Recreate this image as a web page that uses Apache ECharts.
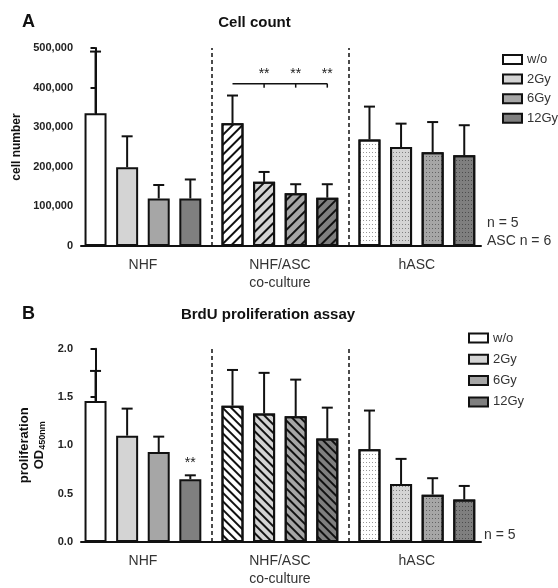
<!DOCTYPE html>
<html>
<head>
<meta charset="utf-8">
<script src="https://cdn.jsdelivr.net/npm/echarts@6/dist/echarts.min.js"></script>
<style>
  html, body { margin: 0; padding: 0; background: #fff; }
  .panel { width: 558px; height: 294px; }
</style>
</head>
<body>
<div id="chartA" class="panel"></div>
<div id="chartB" class="panel"></div>
<script>
const groups = ['NHF', 'NHF/ASC\nco-culture', 'hASC'];
const doses = ['w/o', '2Gy', '6Gy', '12Gy'];
const doseColors = ['#ffffff', '#d4d4d4', '#a6a6a6', '#7f7f7f'];

// rows = groups, columns = doses
const cellMean = [
  [335000, 199000, 120000, 120000],
  [310000, 162000, 133000, 122000],
  [269000, 250000, 237000, 229000]
];
const cellUpper = [
  [491000, 277000, 154000, 168000],
  [380000, 187000, 156000, 156000],
  [352000, 309000, 313000, 305000]
];
const brduMean = [
  [1.46, 1.10, 0.93, 0.65],
  [1.41, 1.33, 1.30, 1.07],
  [0.96, 0.60, 0.49, 0.44]
];
const brduUpper = [
  [1.77, 1.38, 1.09, 0.69],
  [1.78, 1.75, 1.68, 1.39],
  [1.36, 0.86, 0.66, 0.58]
];
// significance marks: group, starred doses, bracket from/to dose, level
const cellSig = { group: 1, from: 0, to: 3, stars: [1, 2, 3], level: 410000 };
const brduSig = { group: 0, from: 3, to: 3, stars: [3], level: 0.72 };

const GROUP_STEP = 4.335;   // distance between groups, in bar slots
const pos = (g, i) => g * GROUP_STEP + i;
const FONT = '"Liberation Sans", Arial, sans-serif';

function makeDecal(g, hatchRot, hatchDash) {
  if (g === 1) {
    return { symbol: 'rect', symbolSize: 1, color: '#111', backgroundColor: null,
      dashArrayX: [1, 0], dashArrayY: hatchDash, rotation: hatchRot };
  }
  if (g === 2) {
    return { symbol: 'rect', symbolSize: 1, color: 'rgba(0,0,0,0.4)', backgroundColor: null,
      dashArrayX: [1, 2], dashArrayY: [1, 2.5], rotation: 0 };
  }
  return null;
}

function makeOption(cfg) {
  const barSeries = doses.map((d, i) => ({
    name: d,
    type: 'bar',
    barWidth: 22,
    barGap: '-100%',
    itemStyle: { color: doseColors[i], borderColor: '#111', borderWidth: 2 },
    data: groups.map((gName, g) => {
      const decal = makeDecal(g, cfg.hatchRot, cfg.hatchDash);
      const item = { value: [pos(g, i), cfg.mean[g][i]] };
      if (decal) item.itemStyle = { decal };
      return item;
    }),
    markLine: i === 0 ? {
      silent: true, symbol: ['none', 'none'], label: { show: false },
      lineStyle: { color: '#111', type: [4, 3], width: 1.5 },
      data: [0, 1].map(g => ({ xAxis: pos(g, 3) + (GROUP_STEP - 3) / 2 }))
    } : undefined
  }));

  const errData = [];
  groups.forEach((gName, g) => doses.forEach((d, i) => {
    errData.push([pos(g, i), cfg.mean[g][i], cfg.upper[g][i]]);
  }));

  const sig = cfg.sig;
  const starData = sig.stars.map(i => [pos(sig.group, i), sig.level, sig.from !== sig.to ? 1 : 0]);
  const bracketData = sig.from !== sig.to ? [[pos(sig.group, sig.from), pos(sig.group, sig.to), sig.level]] : [];

  return {
    animation: false,
    textStyle: { fontFamily: FONT },
    grid: cfg.grid,
    legend: {
      orient: 'vertical', left: cfg.legend.left, top: cfg.legend.top,
      itemWidth: 19, itemHeight: 9, itemGap: cfg.legend.gap, icon: 'rect',
      textStyle: { fontSize: 13, color: '#333', lineHeight: 14, fontFamily: FONT },
      data: doses
    },
    xAxis: {
      type: 'value', min: -0.46, max: 12.2,
      axisLine: { show: true, onZero: false, lineStyle: { color: '#111', width: 2 } },
      axisTick: { show: false },
      splitLine: { show: false },
      axisLabel: {
        customValues: groups.map((gName, g) => pos(g, 1.5)),
        formatter: v => groups[Math.round((v - 1.5) / GROUP_STEP)],
        fontSize: 14, lineHeight: 18, color: '#333', margin: 10, fontFamily: FONT
      }
    },
    yAxis: {
      type: 'value', min: 0, max: cfg.yMax, interval: cfg.yInterval,
      name: cfg.yName, nameLocation: 'middle', nameGap: cfg.nameGap,
      nameTextStyle: cfg.nameStyle,
      axisLine: { show: true, lineStyle: { color: '#111', width: 2 } },
      axisTick: { show: true, length: 5, lineStyle: { color: '#111', width: 2 } },
      splitLine: { show: false },
      axisLabel: { formatter: cfg.yFormat, fontSize: 11, fontWeight: 'bold', color: '#222', margin: 8, fontFamily: FONT }
    },
    series: barSeries.concat([
      {
        type: 'custom', name: 'err', silent: true, z: 3,
        encode: { x: 0, y: [1, 2] },
        data: errData,
        renderItem(params, api) {
          const b = api.coord([api.value(0), api.value(1)]);
          const t = api.coord([api.value(0), api.value(2)]);
          const st = { stroke: '#111', lineWidth: 2 };
          return { type: 'group', children: [
            { type: 'line', shape: { x1: b[0], y1: b[1], x2: t[0], y2: t[1] }, style: st },
            { type: 'line', shape: { x1: t[0] - 5.5, y1: t[1], x2: t[0] + 5.5, y2: t[1] }, style: st }
          ] };
        }
      },
      {
        type: 'custom', name: 'bracket', silent: true, z: 3,
        encode: { x: [0, 1], y: 2 },
        data: bracketData,
        renderItem(params, api) {
          const a = api.coord([api.value(0), api.value(2)]);
          const c = api.coord([api.value(1), api.value(2)]);
          return { type: 'line', shape: { x1: a[0], y1: a[1], x2: c[0], y2: c[1] },
            style: { stroke: '#111', lineWidth: 1.5 } };
        }
      },
      {
        type: 'custom', name: 'stars', silent: true, z: 3,
        encode: { x: 0, y: 1 },
        data: starData,
        renderItem(params, api) {
          const p = api.coord([api.value(0), api.value(1)]);
          const children = [
            { type: 'text', x: p[0], y: p[1] - 2,
              style: { text: '**', fontSize: 14, fill: '#222', align: 'center', verticalAlign: 'bottom', fontFamily: FONT } }
          ];
          if (api.value(2)) {
            children.push({ type: 'line', shape: { x1: p[0], y1: p[1], x2: p[0], y2: p[1] + 4 },
              style: { stroke: '#111', lineWidth: 1.5 } });
          }
          return { type: 'group', children };
        }
      }
    ]),
    graphic: cfg.texts.map(t => ({
      type: 'text', x: t.x, y: t.y, silent: true,
      style: { text: t.text, fontSize: t.size, fontWeight: t.bold ? 'bold' : 'normal',
        fill: t.bold ? '#111' : '#333', align: t.align || 'left', verticalAlign: 'middle', fontFamily: FONT }
    }))
  };
}

const chartA = echarts.init(document.getElementById('chartA'));
chartA.setOption(makeOption({
  mean: cellMean, upper: cellUpper, sig: cellSig,
  grid: { left: 81, top: 48, width: 400, height: 198 },
  legend: { left: 497, top: 47.5, gap: 5.6 },
  yMax: 500000, yInterval: 100000,
  yFormat: v => v === 0 ? '0' : v.toLocaleString('en-US'),
  yName: 'cell number', nameGap: 51,
  nameStyle: { fontSize: 12, fontWeight: 'bold', color: '#111', fontFamily: FONT },
  hatchRot: -Math.PI / 4, hatchDash: [1.5, 4.2],
  texts: [
    { text: 'A', x: 22, y: 22, size: 18, bold: true },
    { text: 'Cell count', x: 254.5, y: 23, size: 15, bold: true, align: 'center' },
    { text: 'n = 5', x: 487, y: 223, size: 14 },
    { text: 'ASC n = 6', x: 487, y: 241, size: 14 }
  ]
}));

const chartB = echarts.init(document.getElementById('chartB'));
chartB.setOption(makeOption({
  mean: brduMean, upper: brduUpper, sig: brduSig,
  grid: { left: 81, top: 54.7, width: 400, height: 197.6 },
  legend: { left: 463, top: 32, gap: 7.3 },
  yMax: 2.0, yInterval: 0.5,
  yFormat: v => v.toFixed(1),
  yName: '{a|proliferation}\n{a|OD}{s|450nm}', nameGap: 27,
  nameStyle: { fontFamily: FONT, rich: {
    a: { fontSize: 13, fontWeight: 'bold', color: '#111', lineHeight: 15, fontFamily: FONT },
    s: { fontSize: 9, fontWeight: 'bold', color: '#111', verticalAlign: 'bottom', padding: [6, 0, 0, 0], fontFamily: FONT }
  } },
  hatchRot: Math.PI / 4, hatchDash: [2, 3.5],
  texts: [
    { text: 'B', x: 22, y: 20, size: 18, bold: true },
    { text: 'BrdU proliferation assay', x: 268, y: 21, size: 15, bold: true, align: 'center' },
    { text: 'n = 5', x: 484, y: 241, size: 14 }
  ]
}));
</script>
</body>
</html>
